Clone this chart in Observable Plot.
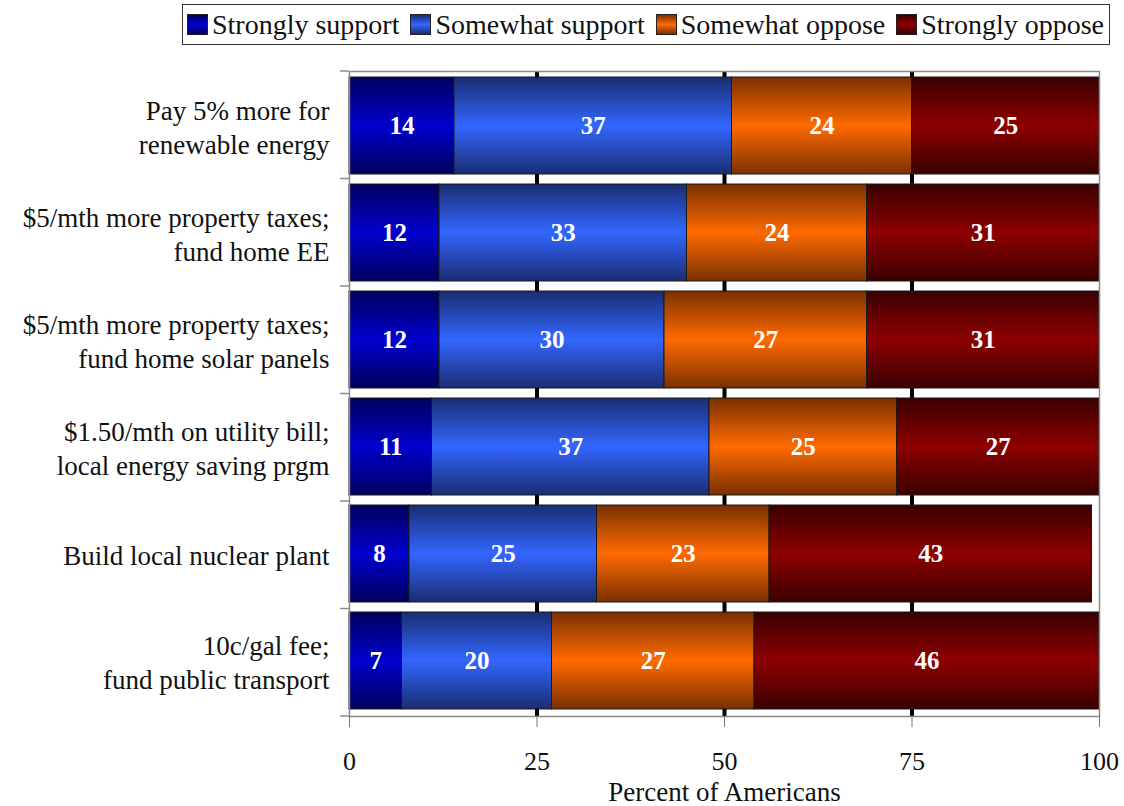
<!DOCTYPE html>
<html><head><meta charset="utf-8">
<script src="https://cdn.jsdelivr.net/npm/d3@7"></script>
<script src="https://cdn.jsdelivr.net/npm/@observablehq/plot@0.6"></script>
<style>
body{margin:0;background:#fff;font-family:"Liberation Serif",serif;width:1124px;height:806px;position:relative;overflow:hidden}
#legend{position:absolute;left:182px;top:4px;width:928px;height:41px;border:1px solid #333;box-sizing:border-box;display:flex;align-items:center;justify-content:space-between;padding:0 5px 0 4px;font-size:28px;color:#111;white-space:nowrap}
#legend .item{display:flex;align-items:center}
#legend .sw{width:21px;height:21px;border:1px solid #222;box-sizing:border-box;margin-right:4px}
#chart{position:absolute;top:50px;left:0}
</style></head><body>
<div id="legend"></div><div id="chart"></div>
<script>
const questions = [
  "Pay 5% more for\nrenewable energy",
  "$5/mth more property taxes;\nfund home EE",
  "$5/mth more property taxes;\nfund home solar panels",
  "$1.50/mth on utility bill;\nlocal energy saving prgm",
  "Build local nuclear plant",
  "10c/gal fee;\nfund public transport"
];
const responses = ["Strongly support","Somewhat support","Somewhat oppose","Strongly oppose"];
const stronglySupport = [14,12,12,11,8,7];
const somewhatSupport = [37,33,30,37,25,20];
const somewhatOppose = [24,24,27,25,23,27];
const stronglyOppose = [25,31,31,27,43,46];
const xTicks = [0,25,50,75,100];
const gridTicks = [25,50,75];
const edgeColors = ["#00005e","#1a2d72","#7a3000","#3a0000"];
const midColors = ["#0000cf","#3366ff","#ff6a00","#8e0000"];

const series = [stronglySupport, somewhatSupport, somewhatOppose, stronglyOppose];
const data = [];
questions.forEach((q, i) => responses.forEach((r, j) => data.push({question: q, response: r, value: series[j][i]})));

const plot = Plot.plot({
  width: 1124, height: 756,
  marginTop: 21, marginBottom: 90, marginLeft: 349, marginRight: 25,
  style: {fontFamily: "Liberation Serif, serif", fontSize: "26px", background: "white", color: "#111"},
  x: {domain: [0, 100], label: null},
  y: {domain: questions, paddingInner: 0.09, paddingOuter: 0.045, label: null},
  color: {domain: responses, range: responses.map((_, i) => `url(#grad${i})`)},
  marks: [
    Plot.ruleX(gridTicks, {stroke: "black", strokeWidth: 4}),
    Plot.barX(data, Plot.stackX({x: "value", y: "question", fill: "response", stroke: "#1a1a1a", strokeWidth: 1, order: responses})),
    Plot.text(data, Plot.stackX({x: "value", y: "question", z: "response", text: d => String(d.value), fill: "white", fontWeight: "bold", fontSize: 25, order: responses})),
    Plot.frame({stroke: "#8a8a8a", strokeWidth: 1.5}),
    Plot.axisX({ticks: xTicks, tickSize: 11, tickPadding: 24, stroke: "#777", fontSize: 26, label: null}),
    Plot.axisX({ticks: [], tickSize: 0, fontSize: 27, label: "Percent of Americans", labelAnchor: "center", labelArrow: "none", labelOffset: 84}),
    Plot.axisY({tickSize: 0, tickPadding: 20, fontSize: 27, lineHeight: 1.25}),
    (index, scales, values, dimensions) => {
      const {marginTop, marginBottom, marginLeft, height} = dimensions;
      const n = questions.length;
      const step = (height - marginTop - marginBottom) / n;
      const g = d3.create("svg:g").attr("stroke", "#8a8a8a").attr("stroke-width", 1.5);
      d3.range(n + 1).forEach(k => {
        const y = marginTop + k * step;
        g.append("line").attr("x1", marginLeft - 9).attr("x2", marginLeft).attr("y1", y).attr("y2", y);
      });
      return g.node();
    }
  ]
});

const defs = d3.select(plot).insert("defs", ":first-child");
responses.forEach((r, i) => {
  const lg = defs.append("linearGradient").attr("id", `grad${i}`).attr("x1", 0).attr("y1", 0).attr("x2", 0).attr("y2", 1);
  lg.append("stop").attr("offset", "0%").attr("stop-color", edgeColors[i]);
  lg.append("stop").attr("offset", "50%").attr("stop-color", midColors[i]);
  lg.append("stop").attr("offset", "100%").attr("stop-color", edgeColors[i]);
});
document.getElementById("chart").appendChild(plot);

const legend = d3.select("#legend");
responses.forEach((r, i) => {
  const it = legend.append("div").attr("class", "item");
  it.append("div").attr("class", "sw").style("background", `linear-gradient(${edgeColors[i]}, ${midColors[i]} 50%, ${edgeColors[i]})`);
  it.append("span").text(r);
});
</script>
</body></html>
